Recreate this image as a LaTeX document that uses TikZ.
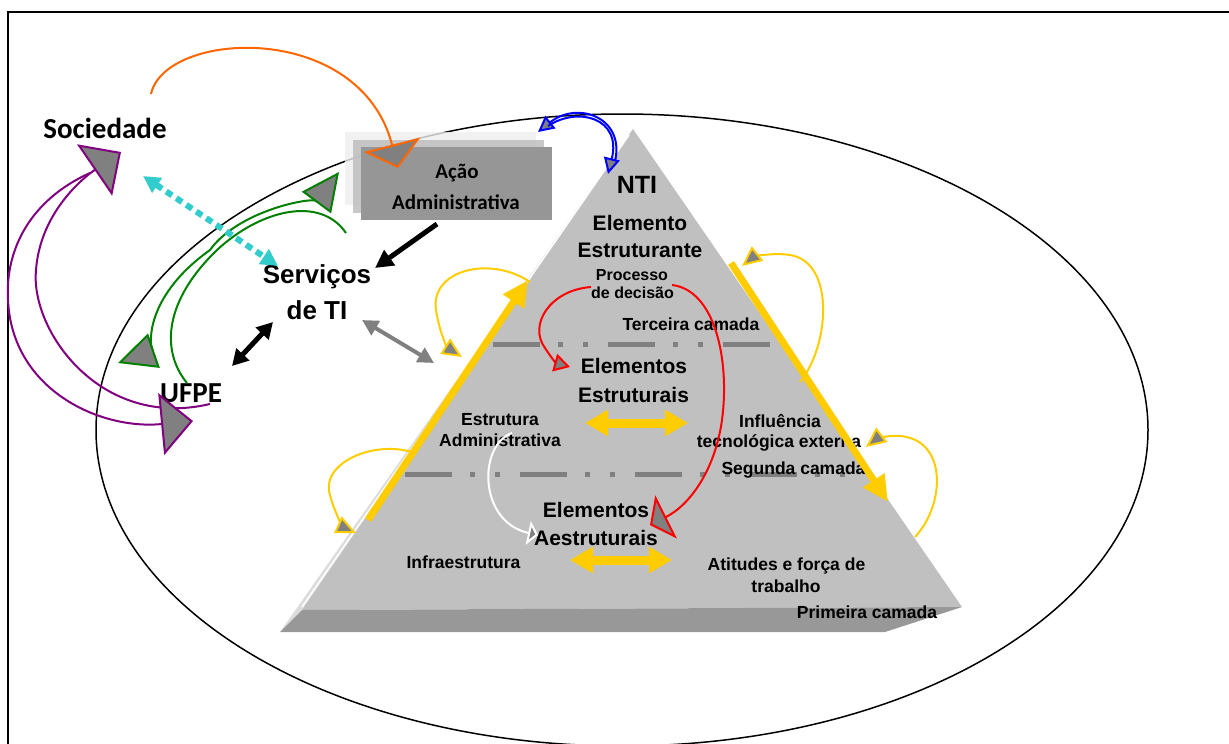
\documentclass[tikz,border=0pt]{standalone}
\usepackage{fontspec}
\setmainfont{Liberation Sans}
\newfontfamily\calibri{Carlito}
\usetikzlibrary{arrows.meta}
\definecolor{pyrface}{HTML}{C0C0C0}
\definecolor{pyrbase}{HTML}{989898}
\definecolor{pyredge}{HTML}{DCDCDC}
\definecolor{headgray}{HTML}{808080}
\definecolor{boxdark}{HTML}{969696}
\definecolor{boxmid}{HTML}{BEBEBE}
\definecolor{boxlight}{HTML}{EEEEEE}
\definecolor{gold}{HTML}{FFCC00}
\definecolor{orng}{HTML}{FF6600}
\definecolor{purp}{HTML}{800080}
\definecolor{grn}{HTML}{008000}
\definecolor{cyn}{HTML}{33CCCC}
\definecolor{dashgray}{HTML}{808080}
\tikzset{
    lbl/.style={anchor=base, inner sep=0pt, font=\fontsize{17.5}{21}\selectfont\bfseries},
    lblsm/.style={lbl, font=\fontsize{16}{19}\selectfont\bfseries},
    lblmid/.style={lbl, font=\fontsize{21}{25}\selectfont\bfseries},
    lblbig/.style={lbl, font=\fontsize{26}{30}\selectfont\bfseries},
    lblcal/.style={lbl, font=\calibri\fontsize{29}{34}\selectfont\bfseries},
    lblbox/.style={lbl, font=\calibri\fontsize{21}{25}\selectfont\bfseries},
    abox/.style={fill=boxdark, minimum width=191pt, minimum height=73pt, inner sep=0pt},
    layerline/.style={draw=dashgray, line width=5pt, dash pattern=on 47pt off 18pt on 5pt off 20pt on 5pt off 20pt},
    link/.style={line width=2pt},
    tipend/.style 2 args={-{Triangle[length=#1,width=#2,fill=headgray]}},
    tipboth/.style 2 args={{Triangle[length=#1,width=#2,fill=headgray]}-{Triangle[length=#1,width=#2,fill=headgray]}},
    fat/.style={line width=5pt},
    goldside/.style={gold, line width=7pt, -{Triangle[length=26pt,width=24pt]}},
    goldpair/.style={gold, line width=9pt, {Triangle[length=23pt,width=25pt]}-{Triangle[length=23pt,width=25pt]}}
}

\begin{document}
\begin{tikzpicture}[x=1pt, y=-1pt]
    \useasboundingbox (0,0) rectangle (1229,744);
    % frame and ellipse
    \draw[line width=2pt] (8,760) -- (8,12) -- (1240,12);
    \draw[line width=1.5pt] (622,430) ellipse [x radius=526, y radius=316];

    % box with its two shadow layers
    \fill[boxlight, opacity=.8] (345,132) rectangle (536,205);
    \fill[boxmid, opacity=.85] (353,140) rectangle (544,213);
    \node (acao) [abox] at (456.5,183.5) {};
    \node (acaoA) [lblbox] at (457,178) {Ação};
    \node (acaoB) [lblbox] at (456,209) {Administrativa};

    % pyramid
    \fill[pyredge] (633,129) -- (280,632) -- (302,610) -- cycle;
    \fill[pyrface] (633,129) -- (302,610) -- (962,607) -- cycle;
    \fill[pyrbase] (302,610) -- (962,607) -- (885,632) -- (280,632) -- cycle;
    \draw[white, line width=1.5pt] (302,607) -- (629,135);
    \draw[layerline] (493,344.5) -- (770,344.5);
    \draw[layerline] (405,474.5) -- (862,474.5);

    % labels outside
    \node (soc) [lblcal] at (105,138) {Sociedade};
    \node (ufpe) [lblcal] at (191,402) {UFPE};
    \node (servA) [lblbig] at (317,283) {Serviços};
    \node (servB) [lblbig] at (317,319) {de TI};

    % labels in the pyramid
    \node (nti) [lblbig, font=\fontsize{25}{30}\selectfont\bfseries] at (637,193) {NTI};
    \node (elemA) [lblmid] at (640,230) {Elemento};
    \node (elemB) [lblmid] at (640,257) {Estruturante};
    \node (procA) [lblsm] at (632,280) {Processo};
    \node (procB) [lblsm] at (632.5,298) {de decisão};
    \node (terc) [lbl] at (691,330) {Terceira camada};
    \node (estrA) [lblmid] at (634,373) {Elementos};
    \node (estrB) [lblmid] at (633.5,402) {Estruturais};
    \node (admA) [lbl] at (500,425) {Estrutura};
    \node (admB) [lbl] at (500,446) {Administrativa};
    \node (inflA) [lbl] at (780,427) {Influência};
    \node (inflB) [lbl] at (779,447) {tecnológica externa};
    \node (seg) [lbl] at (793.5,474) {Segunda camada};
    \node (aesA) [lblmid] at (596,517) {Elementos};
    \node (aesB) [lblmid] at (596,545) {Aestruturais};
    \node (infra) [lbl] at (463.5,568) {Infraestrutura};
    \node (atiA) [lbl] at (786.5,570) {Atitudes e força de};
    \node (atiB) [lbl] at (786,592) {trabalho};
    \node (prim) [lbl] at (867,618) {Primeira camada};

    % connector ends
    \coordinate (orgA) at (151,94);
    \coordinate (orgB) at (398,168);
    \coordinate (purA) at (90,173);
    \coordinate (purB) at (193,421);
    \coordinate (purC) at (210,404);
    \coordinate (purD) at (121,152);
    \coordinate (grnA) at (118,363);
    \coordinate (grnB) at (339,172);
    \coordinate (grnC) at (187,383);
    \coordinate (grnD) at (346,233);
    \coordinate (cynA) at (143,176);
    \coordinate (cynB) at (278,266);
    \coordinate (blkA) at (437,224);
    \coordinate (blkB) at (375,268);
    \coordinate (blkC) at (232,366);
    \coordinate (blkD) at (273,322);
    \coordinate (gryA) at (362,320);
    \coordinate (gryB) at (434,363);

    % connectors outside the pyramid
    \draw[orng, link, tipend={24pt}{58pt}] (orgA) .. controls (165,30) and (360,20) .. (orgB);
    \draw[purp, link, tipend={32pt}{62pt}] (purC) .. controls (100,430) and (30,330) .. (36,270)
        .. controls (40,215) and (80,180) .. (purD);
    \draw[purp, link, tipend={32pt}{62pt}] (purA) .. controls (30,200) and (5,250) .. (8,300)
        .. controls (12,390) and (100,430) .. (purB);
    \draw[grn, link] (grnC) .. controls (160,350) and (165,300) .. (217,250)
        .. controls (260,210) and (320,195) .. (grnD);
    \draw[grn, link, tipboth={38pt}{36pt}] (grnA) .. controls (150,352) and (140,300) .. (210,250)
        .. controls (240,208) and (322,195) .. (grnB);
    \draw[cyn, line width=6pt, dash pattern=on 7pt off 5pt,
        {Triangle[length=17pt,width=17pt]}-{Triangle[length=17pt,width=17pt]}] (cynA) -- (cynB);
    \draw[fat, -{Triangle[length=18pt,width=18pt]}] (blkA) -- (blkB);
    \draw[fat, {Triangle[length=16pt,width=17pt]}-{Triangle[length=16pt,width=17pt]}] (blkC) -- (blkD);
    \draw[headgray, line width=4pt, {Triangle[length=16pt,width=16pt]}-{Triangle[length=16pt,width=16pt]}] (gryA) -- (gryB);
    \draw[blue, link, tipend={16pt}{16pt}] (614,165) .. controls (628,118) and (578,100) .. (538,132);
    \draw[blue, link, tipend={16pt}{16pt}] (548,126) .. controls (578,106) and (622,118) .. (608,174);

    % connectors on the pyramid
    \draw[goldside] (368,520) -- (528,280);
    \draw[goldside] (731,263) -- (888,502);
    \draw[goldpair] (585,423) -- (688,423);
    \draw[goldpair] (570,560) -- (672,560);
    \draw[gold, link, tipend={20pt}{18pt}] (530,282) .. controls (490,255) and (430,270) .. (436,310)
        .. controls (440,335) and (448,348) .. (462,357);
    \draw[gold, link, tipend={20pt}{18pt}] (412,452) .. controls (370,440) and (320,465) .. (330,495)
        .. controls (335,515) and (345,528) .. (356,533);
    \draw[gold, link, tipend={20pt}{18pt}] (800,382) .. controls (830,345) and (835,262) .. (790,255)
        .. controls (770,252) and (752,258) .. (742,266);
    \draw[gold, link, tipend={20pt}{18pt}] (915,537) .. controls (945,505) and (948,440) .. (900,436)
        .. controls (885,435) and (875,440) .. (866,447);
    \draw[red, link, tipend={18pt}{48pt}] (672,285) .. controls (715,290) and (730,360) .. (722,420)
        .. controls (715,470) and (690,505) .. (650,525);
    \draw[red, link, tipend={16pt}{18pt}] (591,287) .. controls (550,290) and (528,325) .. (545,348)
        .. controls (550,356) and (556,363) .. (570,367);
    \draw[white, link, tipend={10pt}{24pt}] (512,433) .. controls (478,445) and (478,522) .. (538,535);
\end{tikzpicture}
\end{document}
